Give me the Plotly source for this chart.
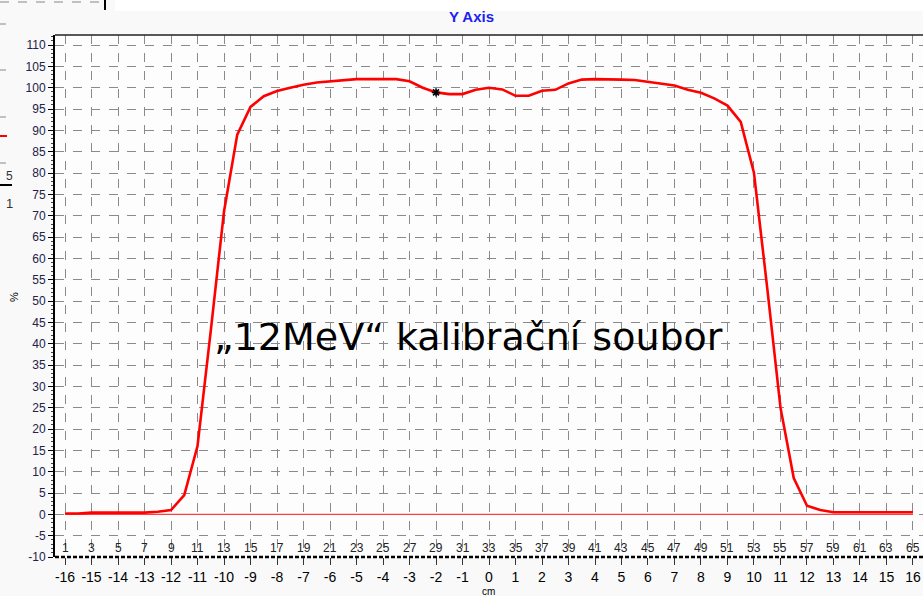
import plotly.graph_objects as go

# ---- data ----
positions_cm = [-16, -15.5, -15, -14.5, -14, -13.5, -13, -12.5, -12, -11.5, -11, -10.5, -10, -9.5, -9,
                -8.5, -8, -7.5, -7, -6.5, -6, -5.5, -5, -4.5, -4, -3.5, -3, -2.5, -2, -1.5, -1, -0.5,
                0, 0.5, 1, 1.5, 2, 2.5, 3, 3.5, 4, 4.5, 5, 5.5, 6, 6.5, 7, 7.5, 8, 8.5, 9, 9.5,
                10, 10.5, 11, 11.5, 12, 12.5, 13, 13.5, 14, 14.5, 15, 15.5, 16]
dose_pct = [0.2, 0.2, 0.4, 0.4, 0.4, 0.4, 0.4, 0.6, 1.0, 4.5, 16, 43, 71, 89, 95.5,
            98, 99.2, 100, 100.7, 101.2, 101.5, 101.7, 102, 102, 102, 102, 101.5, 100, 98.9, 98.5, 98.5, 99.5,
            100, 99.6, 98.1, 98.1, 99.3, 99.5, 101, 101.9, 102, 102, 101.9, 101.8, 101.4, 101, 100.5, 99.5,
            98.8, 97.5, 95.8, 92, 80, 53, 25, 8.5, 2, 1, 0.5, 0.5, 0.5, 0.5, 0.5, 0.5, 0.5]
marker_x = [-2]
marker_y = [98.9]
x_ticks = list(range(-16, 17))
y_ticks = list(range(-10, 111, 5))
index_labels = list(range(1, 66, 2))

W, H = 923, 596
L, T, B, R = 55, 35, 39, 0
PW, PH = W - L - R, H - T - B
X0, X1 = -16.378, 16.378
Y0, Y1 = -10, 112.35


def px(x):
    return (x - L) / PW


def py(y):
    return (H - B - y) / PH


fig = go.Figure()
fig.add_trace(go.Scatter(x=[positions_cm[0], positions_cm[-1]], y=[0, 0], mode="lines",
                         line=dict(color="#ff4040", width=1.2), hoverinfo="skip", showlegend=False))
fig.add_trace(go.Scatter(x=positions_cm, y=dose_pct, mode="lines",
                         line=dict(color="#ff0000", width=2.6), showlegend=False))
fig.add_trace(go.Scatter(x=marker_x, y=marker_y, mode="markers",
                         marker=dict(symbol="asterisk-open", size=7, color="black",
                                     line=dict(color="black", width=1.5)), showlegend=False))

annotations = []
for lab in index_labels:
    annotations.append(dict(x=positions_cm[(lab - 1)], y=-7.9, xref="x", yref="y", text=str(lab),
                            showarrow=False, font=dict(size=12, color="#222222"),
                            xanchor="center", yanchor="middle"))
annotations += [
    dict(x=px(468), y=py(337), xref="paper", yref="paper", text="„12MeV“ kalibrační soubor",
         showarrow=False, font=dict(size=38, color="black", family="DejaVu Sans, Liberation Sans, Arial"),
         xanchor="center", yanchor="middle"),
    dict(x=px(14), y=py(297), xref="paper", yref="paper", text="%", textangle=-90,
         showarrow=False, font=dict(size=11, color="black"), xanchor="center", yanchor="middle"),
    dict(x=px(488), y=py(591), xref="paper", yref="paper", text="cm",
         showarrow=False, font=dict(size=10, color="black"), xanchor="center", yanchor="middle"),
    dict(x=px(471), y=py(17), xref="paper", yref="paper", text="<b>Y Axis</b>",
         showarrow=False, font=dict(size=15, color="#2020f0"), xanchor="center", yanchor="middle"),
    dict(x=px(9), y=py(176), xref="paper", yref="paper", text="5",
         showarrow=False, font=dict(size=12, color="#333333"), xanchor="center", yanchor="middle"),
    dict(x=px(9), y=py(203), xref="paper", yref="paper", text="1",
         showarrow=False, font=dict(size=13, color="#333333"), xanchor="center", yanchor="middle"),
]

shapes = [
    # white top strip
    dict(type="rect", xref="paper", yref="paper", x0=px(115), x1=px(923), y0=py(11), y1=py(0),
         fillcolor="white", line=dict(width=0), layer="below"),
    # top-left fragments
    dict(type="line", xref="paper", yref="paper", x0=px(0), x1=px(100), y0=py(2), y1=py(2),
         line=dict(color="#888888", width=1, dash="dash")),
    dict(type="line", xref="paper", yref="paper", x0=px(105), x1=px(105), y0=py(0), y1=py(10),
         line=dict(color="black", width=2)),
    dict(type="line", xref="paper", yref="paper", x0=px(0), x1=px(7), y0=py(136), y1=py(136),
         line=dict(color="red", width=2)),
    dict(type="line", xref="paper", yref="paper", x0=px(0), x1=px(12), y0=py(185), y1=py(185),
         line=dict(color="black", width=2)),
    # plot frame
    dict(type="line", xref="paper", yref="paper", x0=0, x1=1, y0=1, y1=1,
         line=dict(color="#222222", width=1.5)),
    dict(type="line", xref="paper", yref="paper", x0=0, x1=1, y0=0, y1=0,
         line=dict(color="black", width=2.5, dash="4px,2px")),
]
for yy in [24, 70, 117, 163]:
    shapes.append(dict(type="line", xref="paper", yref="paper", x0=px(0), x1=px(6), y0=py(yy), y1=py(yy),
                       line=dict(color="#888888", width=1)))

fig.update_layout(
    width=W, height=H,
    margin=dict(l=L, r=R, t=T, b=B, pad=0, autoexpand=False),
    paper_bgcolor="#f9f9f9",
    plot_bgcolor="#fdfdfd",
    font=dict(family="Liberation Sans, Arial, sans-serif", color="black"),
    annotations=annotations,
    shapes=shapes,
    showlegend=False,
    xaxis=dict(range=[X0, X1], tickmode="array", tickvals=x_ticks, ticktext=[str(v) for v in x_ticks],
               showgrid=True, gridcolor="#8a8a8a", griddash="dash", gridwidth=1, automargin=False,
               zeroline=False, showline=False, ticks="outside", ticklen=7, tickcolor="#333333",
               tickfont=dict(size=14, color="black"), fixedrange=True),
    yaxis=dict(range=[Y0, Y1], tickmode="array", tickvals=y_ticks, ticktext=[str(v) for v in y_ticks],
               showgrid=True, gridcolor="#8a8a8a", griddash="dash", gridwidth=1, automargin=False,
               zeroline=False, showline=True, linecolor="black", linewidth=2,
               ticks="outside", ticklen=5, tickcolor="black",
               minor=dict(dtick=1, ticklen=2, tickcolor="#444444", ticks="outside", showgrid=False),
               tickfont=dict(size=12, color="#22224a"), fixedrange=True),
)

fig.write_html("out.html", config={"displayModeBar": False},
               post_script="document.body.style.margin='0';document.body.style.overflow='hidden';")
